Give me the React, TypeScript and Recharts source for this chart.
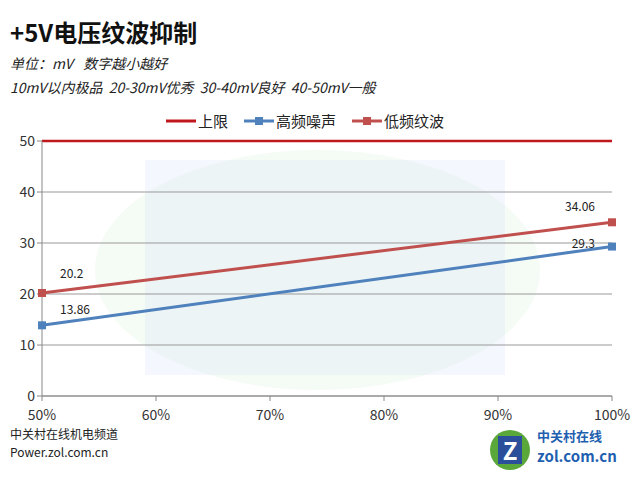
import { LineChart, Line, XAxis, YAxis, CartesianGrid, LabelList } from 'recharts';

const loadLevels = [50, 100];
const xTicks = [50, 60, 70, 80, 90, 100];
const yTicks = [0, 10, 20, 30, 40, 50];
const upperLimit = [50, 50];
const highFreqNoise = [13.86, 29.3];
const lowFreqRipple = [20.2, 34.06];

const chartData = loadLevels.map((load, i) => ({
  load,
  limit: upperLimit[i],
  noise: highFreqNoise[i],
  ripple: lowFreqRipple[i],
}));

const FONT = '"Noto Sans CJK SC", "Noto Sans", sans-serif';

// value labels sit above-right of the first point, left of the last one
function makeLabel(dyFirst: number, dyLast: number) {
  return (props: any) => {
    const { x, y, value, index } = props;
    const first = index === 0;
    return (
      <text
        x={first ? x + 18 : x - 17}
        y={y + (first ? dyFirst : dyLast)}
        fill="#222"
        fontSize={12}
        fontFamily={FONT}
        textAnchor={first ? 'start' : 'end'}
      >
        {value}
      </text>
    );
  };
}

function LegendItem({ color, label, marker }: { color: string; label: string; marker: boolean }) {
  return (
    <div style={{ display: 'flex', alignItems: 'center', marginRight: 16 }}>
      <svg width={30} height={10}>
        <line x1={0} y1={5} x2={30} y2={5} stroke={color} strokeWidth={3} />
        {marker && <rect x={11} y={1} width={8} height={8} fill={color} />}
      </svg>
      <span style={{ marginLeft: 2 }}>{label}</span>
    </div>
  );
}

export default function App() {
  return (
    <div style={{ position: 'absolute', left: 0, top: 0, width: 640, height: 480, background: '#fff', fontFamily: FONT, overflow: 'hidden' }}>
      {/* faint watermark behind the plot */}
      <div style={{ position: 'absolute', left: 95, top: 150, width: 445, height: 240, borderRadius: '50%', background: 'rgba(215,240,215,0.25)' }} />
      <div style={{ position: 'absolute', left: 145, top: 160, width: 360, height: 215, background: 'rgba(220,230,248,0.3)' }} />

      <div style={{ position: 'absolute', left: 10, top: 15, fontSize: 24, fontWeight: 700, color: '#111', lineHeight: '34px' }}>+5V电压纹波抑制</div>
      <div style={{ position: 'absolute', left: 10, top: 53, fontSize: 14, fontStyle: 'italic', color: '#222', lineHeight: '20px', wordSpacing: 2 }}>单位：mV&nbsp;&nbsp;数字越小越好</div>
      <div style={{ position: 'absolute', left: 10, top: 77, fontSize: 14, fontStyle: 'italic', color: '#222', lineHeight: '20px' }}>10mV以内极品&nbsp;&nbsp;20-30mV优秀&nbsp;&nbsp;30-40mV良好&nbsp;&nbsp;40-50mV一般</div>

      <div style={{ position: 'absolute', left: 166, top: 111, display: 'flex', fontSize: 15, color: '#222', lineHeight: '20px' }}>
        <LegendItem color="#C0171C" label="上限" marker={false} />
        <LegendItem color="#4F81BD" label="高频噪声" marker />
        <LegendItem color="#C0504D" label="低频纹波" marker />
      </div>

      <div style={{ position: 'absolute', left: 0, top: 0 }}>
        <LineChart width={640} height={480} data={chartData} margin={{ top: 141, right: 28, left: 12, bottom: 54 }}>
          <CartesianGrid vertical={false} stroke="#999" />
          <XAxis
            dataKey="load"
            type="number"
            domain={[50, 100]}
            ticks={xTicks}
            tickFormatter={(v: number) => `${v}%`}
            height={30}
            stroke="#888"
            tickSize={5}
            tick={{ fill: '#333', fontSize: 14, fontFamily: FONT, dy: 7 }}
            interval={0}
          />
          <YAxis
            domain={[0, 50]}
            ticks={yTicks}
            width={30}
            stroke="#888"
            tickSize={5}
            tick={{ fill: '#333', fontSize: 14, fontFamily: FONT }}
            interval={0}
          />
          <Line dataKey="limit" stroke="#C0171C" strokeWidth={2.5} dot={false} isAnimationActive={false} />
          <Line
            dataKey="noise"
            stroke="#4F81BD"
            strokeWidth={3}
            isAnimationActive={false}
            dot={(p: any) => <rect key={p.index} x={p.cx - 4} y={p.cy - 4} width={8} height={8} fill="#4F81BD" />}
          >
            <LabelList dataKey="noise" content={makeLabel(-11, 1)} />
          </Line>
          <Line
            dataKey="ripple"
            stroke="#C0504D"
            strokeWidth={3}
            isAnimationActive={false}
            dot={(p: any) => <rect key={p.index} x={p.cx - 4} y={p.cy - 4} width={8} height={8} fill="#C0504D" />}
          >
            <LabelList dataKey="ripple" content={makeLabel(-15, -11)} />
          </Line>
        </LineChart>
      </div>

      <div style={{ position: 'absolute', left: 10, top: 426, fontSize: 12, color: '#222', lineHeight: '16px' }}>中关村在线机电频道</div>
      <div style={{ position: 'absolute', left: 10, top: 444, fontSize: 12, color: '#222', lineHeight: '16px' }}>Power.zol.com.cn</div>

      {/* site logo, bottom right */}
      <div style={{ position: 'absolute', left: 490, top: 430, width: 40, height: 40, borderRadius: '50%', background: '#5aa83a' }}>
        <div style={{ position: 'absolute', left: 8, top: 6, width: 24, height: 28, background: '#2b4f9a', color: '#fff', fontWeight: 700, fontSize: 24, lineHeight: '28px', textAlign: 'center' }}>Z</div>
      </div>
      <div style={{ position: 'absolute', left: 537, top: 428, fontSize: 13, fontWeight: 700, color: '#1f5fb0', lineHeight: '16px' }}>中关村在线</div>
      <div style={{ position: 'absolute', left: 537, top: 447, fontSize: 15, fontWeight: 700, color: '#1f5fb0', lineHeight: '18px' }}>zol.com.cn</div>
    </div>
  );
}
